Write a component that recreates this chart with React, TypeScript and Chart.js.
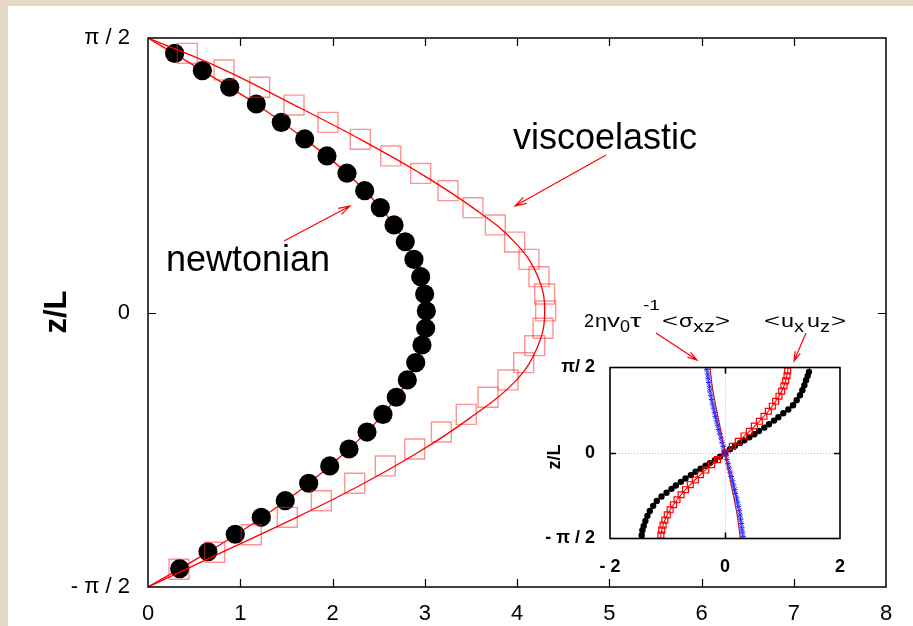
import React, { useEffect, useRef } from "react";
import { Chart, registerables } from "chart.js";

Chart.register(...registerables);

const FONT = '"Liberation Sans", Arial, Helvetica, sans-serif';
const HALF_PI = Math.PI / 2;

// ---------- main chart data ----------
const xTickValues = [0, 1, 2, 3, 4, 5, 6, 7, 8];
const yTickValues = [-HALF_PI, 0, HALF_PI];
const yTickLabels = ["- π / 2", "0", "π / 2"];

// newtonian: filled circles
const newtonianZ = [1.483, 1.384, 1.289, 1.193, 1.088, 0.993, 0.896, 0.797, 0.697, 0.6, 0.501, 0.405, 0.304, 0.205, 0.106, 0.009, -0.09, -0.186, -0.287, -0.386, -0.485, -0.583, -0.684, -0.781, -0.878, -0.977, -1.077, -1.172, -1.269, -1.369, -1.466];
const newtonianX = [0.289, 0.589, 0.886, 1.174, 1.445, 1.699, 1.94, 2.157, 2.349, 2.518, 2.667, 2.789, 2.883, 2.956, 2.999, 3.017, 3.01, 2.97, 2.902, 2.811, 2.692, 2.547, 2.374, 2.179, 1.97, 1.742, 1.488, 1.228, 0.946, 0.65, 0.344];

// newtonian fit line
const newtonFitZ = [1.571, 1.4, 1.2, 1.0, 0.8, 0.6, 0.4, 0.2, 0, -0.2, -0.4, -0.6, -0.8, -1.0, -1.2, -1.4, -1.571];
const newtonFitX = [0, 0.54, 1.15, 1.68, 2.15, 2.52, 2.79, 2.96, 3.02, 2.96, 2.8, 2.52, 2.14, 1.69, 1.16, 0.56, 0];

// viscoelastic: open squares
const viscoZ = [1.483, 1.388, 1.289, 1.187, 1.088, 0.991, 0.896, 0.796, 0.697, 0.6, 0.501, 0.403, 0.304, 0.205, 0.106, 0.009, -0.09, -0.19, -0.287, -0.386, -0.485, -0.583, -0.684, -0.781, -0.878, -0.977, -1.077, -1.172, -1.272, -1.372, -1.469];
const viscoX = [0.426, 0.824, 1.211, 1.583, 1.951, 2.301, 2.631, 2.956, 3.252, 3.523, 3.765, 3.975, 4.13, 4.238, 4.3, 4.311, 4.282, 4.192, 4.073, 3.902, 3.686, 3.45, 3.18, 2.891, 2.572, 2.241, 1.879, 1.51, 1.12, 0.723, 0.336];

// viscoelastic fit line
const viscoFitZ = [1.571, 1.4, 1.2, 1.0, 0.8, 0.6, 0.4, 0.2, 0, -0.2, -0.4, -0.6, -0.8, -1.0, -1.2, -1.4, -1.571];
const viscoFitX = [0, 0.78, 1.54, 2.27, 2.94, 3.52, 3.98, 4.23, 4.3, 4.22, 3.97, 3.5, 2.93, 2.26, 1.5, 0.69, 0];

// ---------- inset data ----------
const insetXTickValues = [-2, 0, 2];
const insetXTickLabels = ["- 2", "0", "2"];
const insetYTickLabels = ["- π / 2", "0", "π/ 2"];

// <ux uz>: black dots
const uxuzZ = [1.491, 1.417, 1.338, 1.246, 1.153, 1.062, 0.969, 0.878, 0.798, 0.73, 0.657, 0.595, 0.528, 0.467, 0.405, 0.344, 0.289, 0.232, 0.184, 0.132, 0.068, 0, -0.068, -0.132, -0.186, -0.234, -0.29, -0.345, -0.406, -0.469, -0.53, -0.597, -0.659, -0.731, -0.8, -0.88, -0.971, -1.064, -1.155, -1.248, -1.34, -1.419, -1.509];
const uxuzX = [1.461, 1.438, 1.409, 1.38, 1.345, 1.304, 1.246, 1.183, 1.101, 1.014, 0.928, 0.852, 0.765, 0.684, 0.591, 0.51, 0.423, 0.336, 0.261, 0.174, 0.087, 0, -0.087, -0.176, -0.262, -0.338, -0.425, -0.512, -0.594, -0.687, -0.768, -0.855, -0.93, -1.017, -1.104, -1.186, -1.249, -1.308, -1.349, -1.385, -1.414, -1.436, -1.449];
const uxuzLineZ = [1.571, 1.491, 1.338, 1.153, 0.969, 0.798, 0.657, 0.528, 0.405, 0.289, 0.184, 0.068, 0, -0.068, -0.186, -0.29, -0.406, -0.53, -0.659, -0.8, -0.971, -1.155, -1.34, -1.509, -1.571];
const uxuzLineX = [1.47, 1.461, 1.409, 1.345, 1.246, 1.101, 0.928, 0.765, 0.591, 0.423, 0.261, 0.087, 0, -0.087, -0.262, -0.425, -0.594, -0.768, -0.93, -1.104, -1.249, -1.349, -1.414, -1.449, -1.455];

// second series: red squares
const sqZ = [1.51, 1.417, 1.326, 1.233, 1.136, 1.043, 0.95, 0.859, 0.767, 0.675, 0.583, 0.496, 0.399, 0.313, 0.215, 0.122, 0, -0.122, -0.215, -0.313, -0.399, -0.496, -0.583, -0.675, -0.767, -0.859, -0.95, -1.043, -1.136, -1.233, -1.326, -1.417, -1.51];
const sqX = [1.09, 1.078, 1.055, 1.026, 0.986, 0.939, 0.881, 0.823, 0.754, 0.678, 0.597, 0.51, 0.423, 0.33, 0.232, 0.128, 0, -0.13, -0.235, -0.334, -0.428, -0.516, -0.604, -0.687, -0.764, -0.835, -0.895, -0.955, -1.004, -1.046, -1.077, -1.101, -1.115];
const sqLineZ = [1.571, 1.51, 1.326, 1.136, 0.95, 0.767, 0.583, 0.399, 0.215, 0, -0.215, -0.399, -0.583, -0.767, -0.95, -1.136, -1.326, -1.51, -1.571];
const sqLineX = [1.1, 1.09, 1.055, 0.986, 0.881, 0.754, 0.597, 0.423, 0.232, 0, -0.235, -0.428, -0.604, -0.764, -0.895, -1.004, -1.077, -1.115, -1.12];

// 2ηv0τ^-1<σxz>: blue stars
const sigmaZ = [1.532, 1.453, 1.374, 1.296, 1.217, 1.139, 1.06, 0.982, 0.903, 0.825, 0.746, 0.668, 0.589, 0.511, 0.432, 0.353, 0.275, 0.196, 0.118, 0.039, -0.039, -0.118, -0.196, -0.275, -0.353, -0.432, -0.511, -0.589, -0.668, -0.746, -0.825, -0.903, -0.982, -1.06, -1.139, -1.217, -1.296, -1.374, -1.453, -1.532];
const sigmaX = [-0.315, -0.3, -0.292, -0.28, -0.268, -0.262, -0.245, -0.232, -0.214, -0.199, -0.18, -0.165, -0.146, -0.128, -0.11, -0.09, -0.07, -0.05, -0.031, -0.01, 0.012, 0.03, 0.052, 0.069, 0.091, 0.108, 0.13, 0.147, 0.166, 0.181, 0.2, 0.216, 0.231, 0.246, 0.259, 0.27, 0.282, 0.291, 0.301, 0.312];
const sigmaLineZ = [1.571, 1.178, 0.785, 0.393, 0, -0.393, -0.785, -1.178, -1.571];
const sigmaLineX = [-0.26, -0.215, -0.145, -0.072, 0, 0.073, 0.147, 0.218, 0.265];

const pts = (xs: number[], zs: number[]) => xs.map((x, i) => ({ x, y: zs[i] }));

function arrow(ctx: CanvasRenderingContext2D, x1: number, y1: number, x2: number, y2: number, len = 12, ang = Math.PI / 11) {
  const a = Math.atan2(y2 - y1, x2 - x1);
  ctx.beginPath();
  ctx.moveTo(x1, y1);
  ctx.lineTo(x2, y2);
  ctx.moveTo(x2 - len * Math.cos(a - ang), y2 - len * Math.sin(a - ang));
  ctx.lineTo(x2, y2);
  ctx.lineTo(x2 - len * Math.cos(a + ang), y2 - len * Math.sin(a + ang));
  ctx.stroke();
}

function txt(ctx: CanvasRenderingContext2D, s: string, x: number, y: number, font: string) {
  ctx.save();
  ctx.font = font;
  ctx.textAlign = "left";
  ctx.textBaseline = "alphabetic";
  ctx.fillText(s, x, y);
  ctx.restore();
}

// text piece stretched horizontally to span [x0, x1]
function fitTxt(ctx: CanvasRenderingContext2D, s: string, x0: number, x1: number, y: number, font: string) {
  ctx.save();
  ctx.font = font;
  ctx.textAlign = "left";
  ctx.textBaseline = "alphabetic";
  const w = ctx.measureText(s).width;
  const sx = Math.max(0.8, Math.min(1.6, (x1 - x0) / w));
  ctx.translate(x0, y);
  ctx.scale(sx, 1);
  ctx.fillText(s, 0, 0);
  ctx.restore();
}

const zeroPad = (s: any) => {
  s.paddingTop = 0;
  s.paddingBottom = 0;
  s.paddingLeft = 0;
  s.paddingRight = 0;
};

const mainDecor = {
  id: "mainDecor",
  beforeDraw(chart: any) {
    const { ctx, width, height } = chart;
    ctx.save();
    ctx.fillStyle = "#e4dac7";
    ctx.fillRect(0, 0, width, height);
    ctx.fillStyle = "#ffffff";
    ctx.fillRect(8, 6, width - 8, height - 6);
    ctx.restore();
  },
  afterDraw(chart: any) {
    const { ctx, chartArea: a } = chart;
    const xs = chart.scales.x;
    const ys = chart.scales.y;
    ctx.save();
    ctx.strokeStyle = "#000";
    ctx.lineWidth = 1.5;
    ctx.strokeRect(a.left, a.top, a.right - a.left, a.bottom - a.top);
    ctx.lineWidth = 1.2;
    ctx.beginPath();
    for (const v of xTickValues.slice(1, -1)) {
      const px = Math.round(xs.getPixelForValue(v)) + 0.5;
      ctx.moveTo(px, a.bottom);
      ctx.lineTo(px, a.bottom - 8);
      ctx.moveTo(px, a.top);
      ctx.lineTo(px, a.top + 8);
    }
    const py = Math.round(ys.getPixelForValue(0)) + 0.5;
    ctx.moveTo(a.left, py);
    ctx.lineTo(a.left + 8, py);
    ctx.moveTo(a.right, py);
    ctx.lineTo(a.right - 8, py);
    ctx.stroke();

    // y axis title
    ctx.fillStyle = "#000";
    ctx.save();
    ctx.translate(57, 312);
    ctx.rotate(-Math.PI / 2);
    ctx.font = `bold 31px ${FONT}`;
    ctx.textAlign = "center";
    ctx.textBaseline = "middle";
    ctx.fillText("z/L", 0, 0);
    ctx.restore();

    // labels
    txt(ctx, "viscoelastic", 513, 148.5, `36px ${FONT}`);
    txt(ctx, "newtonian", 166, 270.5, `36px ${FONT}`);

    // inset labels
    const m = `18px ${FONT}`;
    const s = `16px ${FONT}`;
    const sp = `14px ${FONT}`;
    fitTxt(ctx, "2", 584, 594, 327, m);
    fitTxt(ctx, "η", 595, 607, 327, m);
    fitTxt(ctx, "v", 607, 620, 327, m);
    fitTxt(ctx, "0", 620, 630, 332, s);
    fitTxt(ctx, "τ", 630, 643, 327, m);
    fitTxt(ctx, "-1", 643, 660, 310, sp);
    fitTxt(ctx, "<", 662, 678, 327, m);
    fitTxt(ctx, "σ", 679, 693, 327, m);
    fitTxt(ctx, "xz", 693, 715, 332, s);
    fitTxt(ctx, ">", 715, 730, 327, m);

    fitTxt(ctx, "<", 764, 780, 327, m);
    fitTxt(ctx, "u", 781, 794, 327, m);
    fitTxt(ctx, "x", 794, 804, 332, s);
    fitTxt(ctx, "u", 807, 820, 327, m);
    fitTxt(ctx, "z", 820, 830, 332, s);
    fitTxt(ctx, ">", 831, 846, 327, m);

    // arrows
    ctx.strokeStyle = "#ff0000";
    ctx.lineWidth = 1.2;
    arrow(ctx, 606, 155, 515, 206);
    arrow(ctx, 284, 241, 350, 206);
    arrow(ctx, 656, 333, 697, 360, 10);
    arrow(ctx, 806, 333, 794, 361, 10);
    ctx.restore();
  },
};

const insetDecor = {
  id: "insetDecor",
  beforeDatasetsDraw(chart: any) {
    const { ctx, chartArea: a } = chart;
    const xs = chart.scales.x;
    const ys = chart.scales.y;
    ctx.save();
    ctx.strokeStyle = "#b8b8b8";
    ctx.lineWidth = 1;
    ctx.setLineDash([1, 2]);
    const px = Math.round(xs.getPixelForValue(0)) + 0.5;
    const py = Math.round(ys.getPixelForValue(0)) + 0.5;
    ctx.beginPath();
    ctx.moveTo(px, a.top);
    ctx.lineTo(px, a.bottom);
    ctx.moveTo(a.left, py);
    ctx.lineTo(a.right, py);
    ctx.stroke();
    ctx.restore();
  },
  afterDraw(chart: any) {
    const { ctx, chartArea: a } = chart;
    const xs = chart.scales.x;
    const ys = chart.scales.y;
    ctx.save();
    ctx.strokeStyle = "#000";
    ctx.lineWidth = 1.6;
    ctx.strokeRect(a.left, a.top, a.right - a.left, a.bottom - a.top);
    const px = Math.round(xs.getPixelForValue(0)) + 0.5;
    const py = Math.round(ys.getPixelForValue(0)) + 0.5;
    ctx.beginPath();
    ctx.moveTo(px, a.bottom);
    ctx.lineTo(px, a.bottom - 6);
    ctx.moveTo(px, a.top);
    ctx.lineTo(px, a.top + 6);
    ctx.moveTo(a.left, py);
    ctx.lineTo(a.left + 6, py);
    ctx.moveTo(a.right, py);
    ctx.lineTo(a.right - 6, py);
    ctx.stroke();

    ctx.fillStyle = "#000";
    ctx.translate(15, 102);
    ctx.rotate(-Math.PI / 2);
    ctx.font = `bold 18px ${FONT}`;
    ctx.textAlign = "center";
    ctx.textBaseline = "middle";
    ctx.fillText("z/L", 0, 0);
    ctx.restore();
  },
};

export default function App() {
  const mainRef = useRef<HTMLCanvasElement>(null);
  const insetRef = useRef<HTMLCanvasElement>(null);

  useEffect(() => {
    const main = new Chart(mainRef.current as HTMLCanvasElement, {
      type: "scatter",
      data: {
        datasets: [
          {
            label: "viscoelastic fit",
            data: pts(viscoFitX, viscoFitZ),
            showLine: true,
            tension: 0.4,
            pointRadius: 0,
            borderColor: "#ff0000",
            borderWidth: 1.3,
            fill: false,
          },
          {
            label: "viscoelastic",
            data: pts(viscoX, viscoZ),
            showLine: false,
            pointStyle: "rect",
            pointRadius: 14.1,
            pointBorderWidth: 1.4,
            pointBorderColor: "rgba(255,40,40,0.5)",
            pointBackgroundColor: "rgba(0,0,0,0)",
          },
          {
            label: "newtonian",
            data: pts(newtonianX, newtonianZ),
            showLine: false,
            pointStyle: "circle",
            pointRadius: 9.6,
            pointBorderWidth: 0,
            pointBackgroundColor: "#000",
            pointBorderColor: "#000",
          },
          {
            label: "newtonian fit",
            data: pts(newtonFitX, newtonFitZ),
            showLine: true,
            tension: 0.4,
            pointRadius: 0,
            borderColor: "#ff0000",
            borderWidth: 1.3,
            fill: false,
          },
        ],
      },
      options: {
        responsive: false,
        animation: false,
        devicePixelRatio: 1,
        events: [],
        layout: { padding: { top: 38, right: 27, left: 0, bottom: 0 } },
        plugins: { legend: { display: false }, tooltip: { enabled: false } },
        scales: {
          x: {
            type: "linear",
            min: 0,
            max: 8,
            afterBuildTicks: (s: any) => {
              s.ticks = xTickValues.map((v) => ({ value: v }));
            },
            afterFit: (s: any) => {
              s.height = 39;
              zeroPad(s);
            },
            grid: { display: false, drawTicks: false },
            border: { display: false },
            ticks: {
              font: { family: FONT, size: 22 },
              color: "#000",
              padding: 14,
              maxRotation: 0,
              autoSkip: false,
            },
          },
          y: {
            type: "linear",
            min: -HALF_PI,
            max: HALF_PI,
            afterBuildTicks: (s: any) => {
              s.ticks = yTickValues.map((v) => ({ value: v }));
            },
            afterFit: (s: any) => {
              s.width = 148;
              zeroPad(s);
            },
            grid: { display: false, drawTicks: false },
            border: { display: false },
            ticks: {
              font: { family: FONT, size: 22 },
              color: "#000",
              padding: 18,
              autoSkip: false,
              callback: (_v: any, i: number) => yTickLabels[i],
            },
          },
        },
      },
      plugins: [mainDecor],
    } as any);

    const inset = new Chart(insetRef.current as HTMLCanvasElement, {
      type: "scatter",
      data: {
        datasets: [
          {
            label: "sigma fit",
            data: pts(sigmaLineX, sigmaLineZ),
            showLine: true,
            tension: 0.4,
            pointRadius: 0,
            borderColor: "#c0102a",
            borderWidth: 1.1,
          },
          {
            label: "2ηv0τ-1<σxz>",
            data: pts(sigmaX, sigmaZ),
            showLine: false,
            pointStyle: "star",
            pointRadius: 3,
            pointBorderWidth: 1,
            pointBorderColor: "#2a2aff",
            pointBackgroundColor: "#2a2aff",
          },
          {
            label: "squares",
            data: pts(sqX, sqZ),
            showLine: false,
            pointStyle: "rect",
            pointRadius: 4.2,
            pointBorderWidth: 1.2,
            pointBorderColor: "#ff0000",
            pointBackgroundColor: "rgba(0,0,0,0)",
          },
          {
            label: "squares fit",
            data: pts(sqLineX, sqLineZ),
            showLine: true,
            tension: 0.4,
            pointRadius: 0,
            borderColor: "#ff0000",
            borderWidth: 1.1,
          },
          {
            label: "<ux uz>",
            data: pts(uxuzX, uxuzZ),
            showLine: false,
            pointStyle: "circle",
            pointRadius: 3.2,
            pointBorderWidth: 0,
            pointBackgroundColor: "#000",
          },
          {
            label: "<ux uz> fit",
            data: pts(uxuzLineX, uxuzLineZ),
            showLine: true,
            tension: 0.4,
            pointRadius: 0,
            borderColor: "#ff0000",
            borderWidth: 1,
          },
        ],
      },
      options: {
        responsive: false,
        animation: false,
        devicePixelRatio: 1,
        events: [],
        layout: { padding: { top: 12.5, right: 20, left: 0, bottom: 0 } },
        plugins: { legend: { display: false }, tooltip: { enabled: false } },
        scales: {
          x: {
            type: "linear",
            min: -2,
            max: 2,
            afterBuildTicks: (s: any) => {
              s.ticks = insetXTickValues.map((v) => ({ value: v }));
            },
            afterFit: (s: any) => {
              s.height = 41.5;
              zeroPad(s);
            },
            grid: { display: false, drawTicks: false },
            border: { display: false },
            ticks: {
              font: { family: FONT, size: 18, weight: "bold" },
              color: "#000",
              padding: 18,
              maxRotation: 0,
              autoSkip: false,
              callback: (_v: any, i: number) => insetXTickLabels[i],
            },
          },
          y: {
            type: "linear",
            min: -HALF_PI,
            max: HALF_PI,
            afterBuildTicks: (s: any) => {
              s.ticks = yTickValues.map((v) => ({ value: v }));
            },
            afterFit: (s: any) => {
              s.width = 70;
              zeroPad(s);
            },
            grid: { display: false, drawTicks: false },
            border: { display: false },
            ticks: {
              font: { family: FONT, size: 18, weight: "bold" },
              color: "#000",
              padding: 15,
              autoSkip: false,
              callback: (_v: any, i: number) => insetYTickLabels[i],
            },
          },
        },
      },
      plugins: [insetDecor],
    } as any);

    return () => {
      main.destroy();
      inset.destroy();
    };
  }, []);

  return (
    <div style={{ position: "absolute", left: 0, top: 0, width: 913, height: 626, overflow: "hidden" }}>
      <canvas
        ref={mainRef}
        width={913}
        height={626}
        style={{ position: "absolute", left: 0, top: 0, width: 913, height: 626 }}
      />
      <canvas
        ref={insetRef}
        width={320}
        height={225}
        style={{ position: "absolute", left: 540, top: 355, width: 320, height: 225 }}
      />
    </div>
  );
}
